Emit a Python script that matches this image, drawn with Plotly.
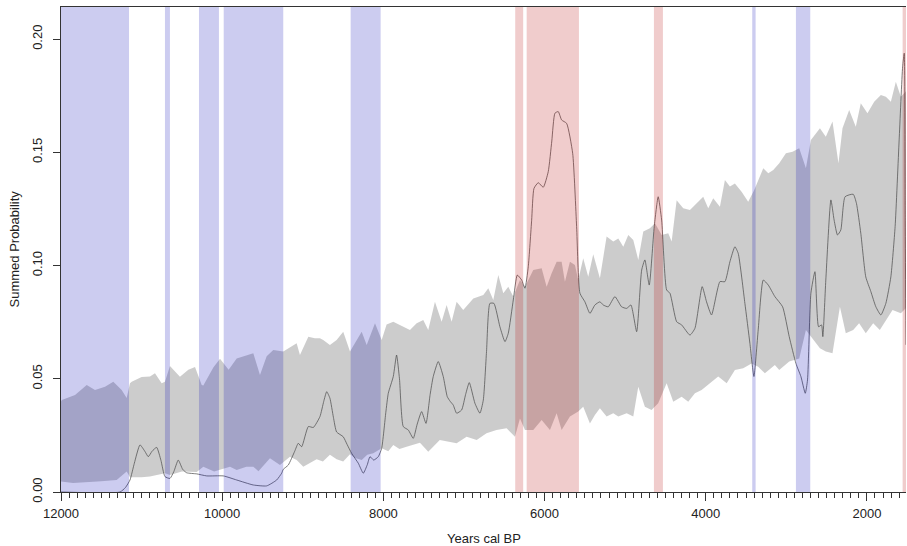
import plotly.graph_objects as go

# ---- data ----
env_hi_years = [12000, 11990, 11826, 11681, 11578, 11454, 11351, 11300, 11247, 11185, 11144, 11123,
                11000, 10896, 10834, 10751, 10710, 10648, 10524, 10420, 10337, 10254, 10234, 10110,
                10027, 9920, 9820, 9614, 9531, 9448, 9366, 9242, 9180, 9076, 9035, 8931, 8850, 8787,
                8746, 8663, 8580, 8498, 8414, 8350, 8269, 8207, 8104, 8021, 7960, 7877, 7753, 7670,
                7587, 7505, 7443, 7360, 7277, 7215, 7153, 7091, 7009, 6884, 6760, 6698, 6636, 6574,
                6512, 6450, 6388, 6305, 6243, 6140, 6036, 5974, 5912, 5850, 5788, 5747, 5685, 5623,
                5582, 5520, 5458, 5396, 5313, 5230, 5147, 5085, 5023, 4961, 4899, 4837, 4775, 4693,
                4630, 4547, 4465, 4423, 4361, 4279, 4196, 4113, 4031, 3969, 3907, 3824, 3762, 3700,
                3638, 3555, 3473, 3398, 3327, 3286, 3224, 3162, 3088, 3005, 2923, 2840, 2757, 2695,
                2583, 2510, 2427, 2353, 2303, 2220, 2138, 2076, 1993, 1910, 1827, 1765, 1703, 1641,
                1579, 1500]
env_hi = [0.0400, 0.0406, 0.0428, 0.0473, 0.0450, 0.0465, 0.0487, 0.0470, 0.0450, 0.0415, 0.0480, 0.0487,
          0.0508, 0.0510, 0.0525, 0.0480, 0.0487, 0.0556, 0.0509, 0.0540, 0.0552, 0.0473, 0.0470, 0.0550,
          0.0588, 0.0540, 0.0590, 0.0613, 0.0517, 0.0600, 0.0627, 0.0620, 0.0635, 0.0657, 0.0605, 0.0686,
          0.0679, 0.0679, 0.0671, 0.0649, 0.0671, 0.0708, 0.0620, 0.0660, 0.0708, 0.0649, 0.0745, 0.0671,
          0.0740, 0.0752, 0.0730, 0.0716, 0.0745, 0.0760, 0.0716, 0.0840, 0.0752, 0.0826, 0.0752, 0.0840,
          0.0804, 0.0855, 0.0870, 0.0900, 0.0848, 0.0958, 0.0878, 0.0907, 0.0863, 0.0936, 0.0907, 0.0980,
          0.0988, 0.0907, 0.0966, 0.1017, 0.1017, 0.0929, 0.1017, 0.1003, 0.0936, 0.1032, 0.0951, 0.1050,
          0.0944, 0.1128, 0.1106, 0.1120, 0.1083, 0.1135, 0.1113, 0.1025, 0.1150, 0.1165, 0.1187, 0.1135,
          0.1143, 0.1106, 0.1289, 0.1253, 0.1246, 0.1275, 0.1304, 0.1253, 0.1297, 0.1260, 0.1378, 0.1349,
          0.1363, 0.1326, 0.1282, 0.1334, 0.1393, 0.1430, 0.1408, 0.1422, 0.1452, 0.1496, 0.1503, 0.1518,
          0.1430, 0.1555, 0.1606, 0.1569, 0.1636, 0.1452, 0.1606, 0.1687, 0.1613, 0.1717, 0.1673, 0.1724,
          0.1753, 0.1746, 0.1724, 0.1812, 0.1746, 0.1776]

env_lo_years = [12000, 11850, 11700, 11500, 11309, 11185, 11144, 11000, 10896, 10710, 10648, 10500,
                10316, 10234, 10100, 9903, 9820, 9700, 9614, 9550, 9407, 9283, 9159, 9076, 8994,
                8900, 8828, 8750, 8663, 8580, 8498, 8414, 8350, 8269, 8200, 8125, 8021, 7939, 7877,
                7800, 7712, 7629, 7546, 7443, 7300, 7091, 6967, 6842, 6720, 6596, 6471, 6367, 6305,
                6243, 6140, 6036, 5933, 5850, 5788, 5685, 5582, 5520, 5437, 5375, 5313, 5230, 5147,
                5085, 4981, 4899, 4837, 4755, 4672, 4590, 4485, 4403, 4299, 4217, 4134, 4051, 3948,
                3845, 3740, 3638, 3535, 3431, 3349, 3266, 3142, 3088, 2964, 2840, 2757, 2665, 2583,
                2510, 2427, 2335, 2262, 2170, 2097, 2014, 1922, 1840, 1765, 1682, 1579, 1500]
env_lo = [0.0046, 0.0040, 0.0042, 0.0048, 0.0053, 0.0090, 0.0065, 0.0065, 0.0068, 0.0083, 0.0075, 0.0090,
          0.0088, 0.0112, 0.0090, 0.0112, 0.0097, 0.0112, 0.0112, 0.0092, 0.0149, 0.0119, 0.0156, 0.0141,
          0.0112, 0.0130, 0.0145, 0.0135, 0.0165, 0.0145, 0.0135, 0.0167, 0.0150, 0.0141, 0.0165, 0.0171,
          0.0193, 0.0180, 0.0208, 0.0190, 0.0200, 0.0210, 0.0218, 0.0178, 0.0230, 0.0215, 0.0244, 0.0230,
          0.0259, 0.0274, 0.0281, 0.0244, 0.0325, 0.0274, 0.0274, 0.0318, 0.0274, 0.0348, 0.0274, 0.0333,
          0.0355, 0.0377, 0.0303, 0.0340, 0.0370, 0.0333, 0.0348, 0.0333, 0.0348, 0.0333, 0.0465, 0.0377,
          0.0362, 0.0392, 0.0480, 0.0399, 0.0421, 0.0399, 0.0436, 0.0450, 0.0480, 0.0510, 0.0480, 0.0539,
          0.0546, 0.0568, 0.0553, 0.0524, 0.0561, 0.0539, 0.0576, 0.0590, 0.0716, 0.0671, 0.0635, 0.0620,
          0.0613, 0.0818, 0.0701, 0.0716, 0.0745, 0.0701, 0.0745, 0.0716, 0.0760, 0.0804, 0.0789, 0.0818]

spd_years = [12000, 11268, 11200, 11144, 11090, 11020, 10960, 10917, 10870, 10813, 10760, 10710, 10648,
             10600, 10545, 10490, 10441, 10316, 10192, 9986, 9820, 9614, 9448, 9324, 9262, 9242, 9180,
             9100, 9056, 9014, 8931, 8869, 8787, 8740, 8703, 8663, 8620, 8580, 8498, 8450, 8394, 8311,
             8249, 8200, 8166, 8120, 8063, 8021, 7970, 7939, 7877, 7836, 7800, 7753, 7691, 7629, 7580,
             7525, 7471, 7420, 7381, 7319, 7257, 7207, 7170, 7133, 7091, 7029, 6980, 6934, 6864, 6802,
             6760, 6720, 6678, 6628, 6554, 6491, 6450, 6388, 6338, 6284, 6243, 6202, 6160, 6131, 6078,
             6016, 5954, 5910, 5871, 5830, 5788, 5726, 5651, 5602, 5561, 5499, 5437, 5375, 5313, 5272,
             5210, 5127, 5044, 4981, 4928, 4857, 4795, 4755, 4701, 4639, 4590, 4547, 4485, 4444, 4361,
             4299, 4196, 4134, 4044, 3990, 3928, 3824, 3762, 3700, 3638, 3597, 3514, 3452, 3402, 3349,
             3286, 3224, 3142, 3046, 2964, 2881, 2819, 2765, 2737, 2695, 2645, 2600, 2563, 2547, 2510,
             2447, 2407, 2365, 2324, 2271, 2170, 2130, 2076, 2014, 1951, 1889, 1827, 1765, 1703, 1650,
             1600, 1557, 1537, 1525, 1515]
spd = [0.0, 0.0, 0.0020, 0.0053, 0.0127, 0.0208, 0.0180, 0.0156, 0.0180, 0.0197, 0.0140, 0.0068, 0.0060,
       0.0090, 0.0141, 0.0100, 0.0085, 0.0080, 0.0071, 0.0071, 0.0053, 0.0031, 0.0027, 0.0053, 0.0083,
       0.0100, 0.0119, 0.0180, 0.0215, 0.0200, 0.0289, 0.0285, 0.0333, 0.0400, 0.0443, 0.0414, 0.0330,
       0.0265, 0.0244, 0.0210, 0.0171, 0.0127, 0.0083, 0.0120, 0.0156, 0.0141, 0.0156, 0.0193, 0.0350,
       0.0436, 0.0510, 0.0605, 0.0500, 0.0289, 0.0274, 0.0237, 0.0300, 0.0355, 0.0303, 0.0430, 0.0510,
       0.0576, 0.0510, 0.0421, 0.0400, 0.0384, 0.0348, 0.0362, 0.0430, 0.0483, 0.0392, 0.0348, 0.0406,
       0.0620, 0.0833, 0.0833, 0.0730, 0.0664, 0.0701, 0.0848, 0.0958, 0.0936, 0.0900, 0.0995, 0.1200,
       0.1341, 0.1366, 0.1346, 0.1415, 0.1550, 0.1673, 0.1680, 0.1643, 0.1628, 0.1496, 0.1172, 0.0878,
       0.0840, 0.0789, 0.0826, 0.0840, 0.0826, 0.0818, 0.0863, 0.0818, 0.0811, 0.0826, 0.0708, 0.0980,
       0.1025, 0.0914, 0.1172, 0.1304, 0.1201, 0.0892, 0.0878, 0.0752, 0.0738, 0.0693, 0.0723, 0.0907,
       0.0840, 0.0782, 0.0929, 0.0929, 0.1017, 0.1083, 0.1054, 0.0833, 0.0657, 0.0510, 0.0716, 0.0936,
       0.0914, 0.0863, 0.0818, 0.0686, 0.0568, 0.0510, 0.0436, 0.0495, 0.0878, 0.0973, 0.0730, 0.0738,
       0.0686, 0.0936, 0.1290, 0.1201, 0.1135, 0.1157, 0.1304, 0.1315, 0.1275, 0.1143, 0.0950, 0.0885,
       0.0818, 0.0782, 0.0833, 0.0950, 0.1172, 0.1555, 0.1878, 0.1938, 0.1200, 0.0650]

# periods where observed SPD is above / below the envelope (start, end in years cal BP)
pos_start = [6364, 6222, 4643, 1557]
pos_end = [6265, 5573, 4531, 1515]
neg_start = [12000, 10710, 10288, 9981, 8406, 3423, 2881]
neg_end = [11156, 10648, 10040, 9242, 8034, 3381, 2703]

x_ticks = [12000, 10000, 8000, 6000, 4000, 2000]
y_ticks = [0.0, 0.05, 0.10, 0.15, 0.20]
x_range = [12000, 1515]
y_range = [0, 0.2142]

fig = go.Figure()

fig.add_trace(go.Scatter(
    x=env_hi_years + env_lo_years[::-1],
    y=env_hi + env_lo[::-1],
    fill="toself", fillcolor="rgba(0,0,0,0.2)",
    line=dict(width=0), mode="lines", hoverinfo="skip"))

fig.add_trace(go.Scatter(
    x=spd_years, y=spd, mode="lines",
    line=dict(color="#505050", width=0.75, shape="spline", smoothing=0.5)))

shapes = []
for s, e in zip(neg_start, neg_end):
    shapes.append(dict(type="rect", xref="x", yref="paper", x0=s, x1=e, y0=0, y1=1,
                       fillcolor="rgba(0,0,179,0.2)", line=dict(width=0), layer="above"))
for s, e in zip(pos_start, pos_end):
    shapes.append(dict(type="rect", xref="x", yref="paper", x0=s, x1=e, y0=0, y1=1,
                       fillcolor="rgba(179,0,0,0.2)", line=dict(width=0), layer="above"))

axis_col = "#333333"
fig.update_layout(
    width=907, height=546,
    margin=dict(l=61, r=1, t=7, b=54),
    plot_bgcolor="white", paper_bgcolor="white",
    showlegend=False,
    font=dict(family="Liberation Sans, Arial, sans-serif", size=13, color="#222222"),
    shapes=shapes,
    xaxis=dict(range=x_range, showgrid=False, zeroline=False,
               showline=True, linecolor=axis_col, linewidth=1, mirror=True,
               ticks="outside", tickvals=x_ticks, tickformat="d",
               ticklen=8, tickwidth=1, tickcolor=axis_col,
               ticklabelstandoff=1,
               minor=dict(dtick=100, tick0=0, ticks="outside", ticklen=5, tickwidth=1,
                          tickcolor=axis_col, showgrid=False)),
    yaxis=dict(range=y_range, showgrid=False, zeroline=False,
               showline=True, linecolor=axis_col, linewidth=1,
               ticks="outside", tickvals=y_ticks, tickformat=".2f", tickangle=-90,
               ticklen=7, tickwidth=1, tickcolor=axis_col, ticklabelstandoff=6),
    annotations=[
        dict(text="Years cal BP", xref="paper", yref="paper", x=0.5, y=0,
             xanchor="center", yanchor="middle", yshift=-46, showarrow=False,
             font=dict(size=13)),
        dict(text="Summed Probability", xref="paper", yref="paper", x=0, y=0.5,
             xanchor="center", yanchor="middle", xshift=-47, textangle=-90,
             showarrow=False, font=dict(size=13)),
    ],
)

fig.write_html("out.html", config={"displayModeBar": False},
               post_script="document.body.style.margin='0';document.body.style.overflow='hidden';")
